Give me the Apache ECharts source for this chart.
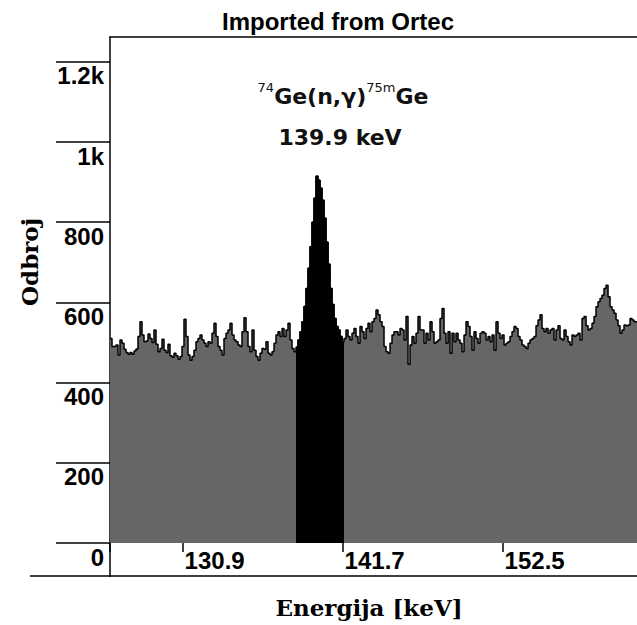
<!DOCTYPE html>
<html><head><meta charset="utf-8">
<script src="https://cdn.jsdelivr.net/npm/echarts@6/dist/echarts.min.js"></script>
<style>html,body{margin:0;padding:0;background:#fff}#c{width:637px;height:625px}</style>
</head><body><div id="c"></div>
<script>
// ---- data ----
const titleText = 'Imported from Ortec';
const xAxisName = 'Energija [keV]';
const yAxisName = 'Odbroj';
const peakLabelLine2 = '139.9 keV';

const CHANNEL_START_KEV = 126.0;   // lower edge of first channel shown
const KEV_PER_CHANNEL = 0.135;     // calibration (keV per channel)

const counts = [
  510,490,490,494,469,506,498,483,475,471,
  475,471,479,484,515,552,519,502,504,521,
  510,500,531,496,477,485,508,481,475,496,
  467,463,473,467,458,465,490,558,515,469,
  456,465,481,502,510,519,
  506,498,490,502,498,523,548,515,490,481,
  469,510,523,531,548,519,506,502,494,490,
  527,562,527,490,477,531,481,465,456,473,
  485,483,502,473,469,477,498,519,527,515,
  535,515,531,548,506,485,
  477,488,506,527,552,590,635,685,739,800,
  860,915,905,885,855,810,750,695,635,595,
  560,540,531,515,502,
  510,531,515,506,523,535,515,498,540,527,
  510,535,548,527,552,560,581,569,552,540,
  490,477,473,498,519,527,527,519,535,531,
  506,565,446,494,515,498,523,565,531,531,
  498,523,506,552,527,498,502,506,560,
  585,523,498,527,473,523,502,523,506,498,
  477,519,552,540,515,481,527,510,498,523,
  527,523,506,515,502,519,481,552,523,510,
  519,494,498,502,515,527,540,535,515,506,
  494,490,485,498,506,510,515,
  542,556,569,535,527,535,523,531,535,506,
  531,542,510,506,531,515,502,494,519,515,
  519,523,506,560,565,542,531,535,548,565,
  589,602,610,618,635,643,614,589,581,573,
  556,542,523,531,544,542,544,560,556,552,
  552
];
const ROI_FIRST = 93;   // first channel of the marked peak region
const ROI_LAST = 116;   // last channel of the marked peak region

const xTickValues = [130.9, 141.7, 152.5];
const xTickMarks = [126.0, 130.9, 141.7, 152.5];
const yTickValues = [0, 200, 400, 600, 800, 1000, 1200];
const yTickLabels = ['0', '200', '400', '600', '800', '1k', '1.2k'];
const X_MIN = 126.0, X_MAX = 161.57, Y_MAX = 1262;

// ---- build series ----
function stepData(first, last) {
  const out = [];
  for (let i = first; i <= last; i++) out.push([CHANNEL_START_KEV + i * KEV_PER_CHANNEL, counts[i]]);
  out.push([CHANNEL_START_KEV + (last + 1) * KEV_PER_CHANNEL, counts[last]]);
  return out;
}
const fullData = stepData(0, counts.length - 1);
const roiData = stepData(ROI_FIRST, ROI_LAST);

const SANS = '"Liberation Sans", Arial, sans-serif';
const SERIF = '"DejaVu Serif", serif';
const ANNO = '"DejaVu Sans", sans-serif';

const chart = echarts.init(document.getElementById('c'), null, {renderer: 'svg'});
chart.setOption({
  animation: false,
  backgroundColor: '#fff',
  grid: {left: 110, right: 0, top: 37, bottom: 82, containLabel: false},
  xAxis: [{
    type: 'value', min: X_MIN, max: X_MAX, position: 'bottom',
    axisLine: {show: false},
    splitLine: {show: false},
    axisTick: {show: true, customValues: xTickMarks, length: 9, lineStyle: {color: '#000', width: 1.5}},
    axisLabel: {customValues: xTickValues, align: 'left', verticalAlign: 'top', margin: 5, padding: [0, 0, 0, 2],
      color: '#000', fontFamily: SANS, fontWeight: 'bold', fontSize: 24,
      formatter: v => v.toFixed(1)}
  }, {
    type: 'value', min: X_MIN, max: X_MAX, position: 'top',
    axisLine: {show: true, lineStyle: {color: '#000', width: 1.5}},
    axisTick: {show: false}, axisLabel: {show: false}, splitLine: {show: false}
  }],
  yAxis: {
    type: 'value', min: 0, max: Y_MAX,
    axisLine: {show: true, lineStyle: {color: '#000', width: 1.5}},
    splitLine: {show: false},
    axisTick: {show: true, customValues: yTickValues, length: 54, lineStyle: {color: '#000', width: 1.5}},
    axisLabel: {customValues: yTickValues, verticalAlign: 'top', margin: 6, padding: [2, 0, 0, 0],
      color: '#000', fontFamily: SANS, fontWeight: 'bold', fontSize: 24,
      formatter: v => yTickLabels[yTickValues.indexOf(v)]}
  },
  series: [{
    type: 'line', step: 'end', data: fullData, symbol: 'none', z: 2,
    lineStyle: {color: '#000', width: 1.5},
    areaStyle: {color: '#666666', opacity: 1}
  }, {
    type: 'line', step: 'end', data: roiData, symbol: 'none', z: 3,
    lineStyle: {color: '#000', width: 1.5},
    areaStyle: {color: '#000000', opacity: 1}
  }],
  graphic: [
    {type: 'text', x: 338, y: 21, style: {text: titleText, align: 'center', verticalAlign: 'middle',
      font: 'bold 24px ' + SANS, fill: '#000'}},
    {type: 'text', x: 343, y: 96, style: {
      text: '{s|74}{n|Ge(n,γ)}{s|75m}{n|Ge}', align: 'center', verticalAlign: 'middle',
      rich: {
        n: {fontFamily: ANNO, fontWeight: 'bold', fontSize: 22, lineHeight: 30, fill: '#111'},
        s: {fontFamily: ANNO, fontSize: 13, lineHeight: 13, verticalAlign: 'top', fill: '#111'}
      }}},
    {type: 'text', x: 340, y: 137, style: {text: peakLabelLine2, align: 'center', verticalAlign: 'middle',
      font: 'bold 22px ' + ANNO, fill: '#111'}},
    {type: 'text', x: 29, y: 262, rotation: Math.PI / 2, style: {text: yAxisName, align: 'center', verticalAlign: 'middle',
      font: 'bold 23px ' + SERIF, fill: '#000'}},
    {type: 'text', x: 369, y: 607, style: {text: xAxisName, align: 'center', verticalAlign: 'middle',
      font: 'bold 23px ' + SERIF, fill: '#000'}},
    {type: 'line', shape: {x1: 110, y1: 543, x2: 110, y2: 577}, style: {stroke: '#000', lineWidth: 1.5}},
    {type: 'line', shape: {x1: 30, y1: 576, x2: 637, y2: 576}, style: {stroke: '#000', lineWidth: 1.5}}
  ]
});
</script></body></html>
